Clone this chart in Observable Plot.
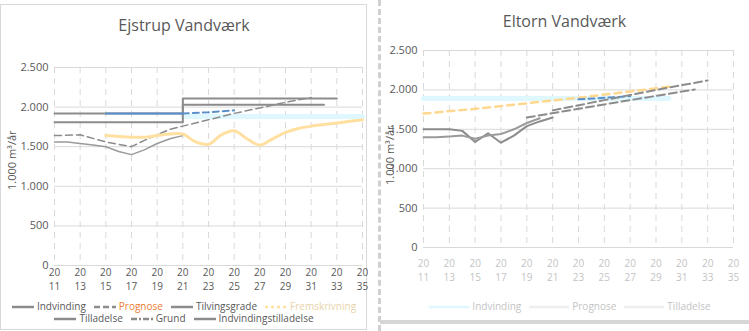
<!DOCTYPE html>
<html><head><meta charset="utf-8">
<script src="https://cdn.jsdelivr.net/npm/d3@7"></script>
<script src="https://cdn.jsdelivr.net/npm/@observablehq/plot@0.6"></script>
<style>
body{margin:0;width:749px;height:331px;background:#fff;font-family:"Open Sans",sans-serif;overflow:hidden;position:relative;color:#595959}
.panel{position:absolute}
.title{position:absolute;font-size:16px;color:#595959;text-align:center}
.ylab{position:absolute;font-size:11px;color:#595959;transform:rotate(-90deg);transform-origin:left top;white-space:nowrap}
.legend{position:absolute;font-size:10px;line-height:11px;color:#595959}
.legend .row{display:flex;justify-content:center;gap:8px;margin-bottom:1px}
.legend span{display:inline-flex;align-items:center;gap:3px;white-space:nowrap}
</style></head><body>
<div style="position:absolute;left:0;top:4px;width:367px;height:326px;border:1px solid #d9d9d9;box-sizing:border-box"></div>
<div style="position:absolute;left:378px;top:0;width:0;height:331px;border-left:3px dashed #d0d0d0"></div>
<div style="position:absolute;left:380px;top:320px;width:369px;height:4px;background:#d6d6d6"></div>
<div class="title" style="left:0;top:14px;width:368px">Ejstrup Vandværk</div>
<div class="title" style="left:380px;top:10px;width:369px">Eltorn Vandværk</div>
<div class="ylab" style="left:4px;top:190px">1.000 m³/år</div>
<div class="ylab" style="left:382px;top:185px">1.000 m³/år</div>
<div id="left" class="panel" style="left:0;top:40px"></div>
<div id="right" class="panel" style="left:380px;top:40px"></div>
<div id="legL" class="legend" style="left:6px;top:301px;width:356px"></div>
<div id="legR" class="legend" style="left:410px;top:301px;width:320px;color:#c4c4c4"></div>
<script>
// ---- shared ticks ----
const xTicks = [2011,2013,2015,2017,2019,2021,2023,2025,2027,2029,2031,2033,2035];
const yTicks = [0,500,1000,1500,2000,2500];

// ---- left chart (Ejstrup) ----
const lHistYears = [2011,2012,2013,2014,2015,2016,2017,2018,2019,2020,2021];
const lHistValues = [1560,1560,1540,1520,1500,1440,1400,1460,1540,1600,1640];
const lProgYears = [2015,2016,2017,2018,2019,2020,2021,2022,2023,2024,2025,2026,2027,2028,2029,2030,2031,2032,2033,2034,2035];
const lProgValues = [1640,1630,1620,1620,1640,1660,1660,1560,1530,1650,1700,1600,1520,1600,1680,1730,1760,1780,1800,1820,1840];
const lPermitAYears = [2011,2021,2032];
const lPermitAValues = [1920,2030,2030];
const lPermitBYears = [2011,2021,2033];
const lPermitBValues = [1810,2110,2110];
const lBlueYears = [2015,2021];
const lBlueValues = [1920,1920];
const lBlueDashYears = [2021,2023,2025];
const lBlueDashValues = [1920,1935,1960];
const lGrundYears = [2011,2013,2015,2017,2018,2019,2020,2021,2023,2025,2027,2029,2031];
const lGrundValues = [1640,1650,1560,1500,1580,1650,1720,1760,1840,1920,1990,2060,2120];
const lBandYears = [2021,2035];
const lBandValues = [1880,1880];

// ---- right chart (Eltorn) ----
const rHistAYears = [2011,2012,2013,2014,2015,2016,2017,2018,2019,2020,2021];
const rHistAValues = [1500,1500,1500,1480,1340,1450,1330,1420,1540,1600,1650];
const rHistBYears = [2011,2012,2013,2014,2015,2016,2017,2018,2019,2020];
const rHistBValues = [1400,1400,1410,1420,1380,1420,1440,1500,1580,1640];
const rProjAYears = [2021,2025,2029,2033];
const rProjAValues = [1740,1870,2000,2120];
const rProjBYears = [2019,2023,2027,2032];
const rProjBValues = [1650,1760,1870,2005];
const rProgYears = [2011,2015,2019,2023,2027,2030];
const rProgValues = [1700,1760,1830,1900,1980,2040];
const rBlueYears = [2023,2025,2027];
const rBlueValues = [1880,1900,1920];
const rBandYears = [2011,2030];
const rBandValues = [1890,1890];

// ---- legends ----
const legLRow1 = ["Indvinding","Prognose","Tilvingsgrade","Fremskrivning"];
const legLRow2 = ["Tilladelse","Grund","Indvindingstilladelse"];
const legRNames = ["Indvinding","Prognose","Tilladelse"];

const loc = d3.formatLocale({decimal:",",thousands:".",grouping:[3],currency:["","kr"]});
const fmt = loc.format(",");
const century = d => String(d).slice(0,2);
const yy = d => String(d).slice(2);
const grid = "#d9d9d9";

function base(opts){
  return {
    width: opts.width, height: opts.height,
    marginLeft: opts.ml, marginRight: opts.mr, marginTop: opts.mt, marginBottom: opts.mb,
    style:{fontFamily:"Open Sans, sans-serif", fontSize:"11px", color:"#595959", background:"transparent"},
    x:{domain:[2011,2035], label:null},
    y:{domain:[0,2500], label:null}
  };
}
const T = (xs, ys) => xs.map((x,i)=>({x, y:ys[i]}));

const left = Plot.plot({
  ...base({width:368,height:262,ml:54,mr:6,mt:27,mb:37}),
  marks:[
    Plot.ruleY(yTicks,{stroke:grid,strokeWidth:1}),
    Plot.ruleX(xTicks,{stroke:grid,strokeDasharray:"6,5"}),
    Plot.line(T(lBandYears,lBandValues),{x:"x",y:"y",stroke:"#dff8ff",strokeWidth:5}),
    Plot.line(T(lPermitBYears,lPermitBValues),{x:"x",y:"y",stroke:"#8c8c8c",strokeWidth:2,curve:"step-after"}),
    Plot.line(T(lPermitAYears,lPermitAValues),{x:"x",y:"y",stroke:"#8c8c8c",strokeWidth:2,curve:"step-after"}),
    Plot.line(T(lBlueYears,lBlueValues),{x:"x",y:"y",stroke:"#5b8fc9",strokeWidth:2}),
    Plot.line(T(lBlueDashYears,lBlueDashValues),{x:"x",y:"y",stroke:"#5b8fc9",strokeWidth:2,strokeDasharray:"6,4"}),
    Plot.line(T(lGrundYears,lGrundValues),{x:"x",y:"y",stroke:"#8c8c8c",strokeWidth:1.5,strokeDasharray:"7,4"}),
    Plot.line(T(lHistYears,lHistValues),{x:"x",y:"y",stroke:"#9a9a9a",strokeWidth:1.5}),
    Plot.line(T(lProgYears,lProgValues),{x:"x",y:"y",stroke:"#ffe0a0",strokeWidth:3,curve:"catmull-rom"}),
    Plot.axisX({ticks:xTicks,tickFormat:century,tickSize:0,tickPadding:3,fill:"#595959",fontSize:10}),
    Plot.axisX({ticks:xTicks,tickFormat:yy,tickSize:0,tickPadding:17,fill:"#595959",fontSize:10}),
    Plot.axisY({ticks:yTicks,tickFormat:fmt,tickSize:0,tickPadding:6,fill:"#595959"})
  ]
});
document.getElementById("left").append(left);

const right = Plot.plot({
  ...base({width:369,height:262,ml:43,mr:16,mt:10,mb:55}),
  marks:[
    Plot.ruleY(yTicks,{stroke:grid,strokeWidth:1}),
    Plot.ruleX(xTicks,{stroke:grid,strokeDasharray:"6,5"}),
    Plot.line(T(rBandYears,rBandValues),{x:"x",y:"y",stroke:"#dff8ff",strokeWidth:5}),
    Plot.line(T(rProgYears,rProgValues),{x:"x",y:"y",stroke:"#ffd890",strokeWidth:2.5,strokeDasharray:"7,5"}),
    Plot.line(T(rBlueYears,rBlueValues),{x:"x",y:"y",stroke:"#5b8fc9",strokeWidth:2,strokeDasharray:"6,4"}),
    Plot.line(T(rProjAYears,rProjAValues),{x:"x",y:"y",stroke:"#8c8c8c",strokeWidth:2,strokeDasharray:"8,4"}),
    Plot.line(T(rProjBYears,rProjBValues),{x:"x",y:"y",stroke:"#8c8c8c",strokeWidth:2,strokeDasharray:"8,4"}),
    Plot.line(T(rHistAYears,rHistAValues),{x:"x",y:"y",stroke:"#8c8c8c",strokeWidth:2}),
    Plot.line(T(rHistBYears,rHistBValues),{x:"x",y:"y",stroke:"#9a9a9a",strokeWidth:2}),
    Plot.axisX({ticks:xTicks,tickFormat:century,tickSize:0,tickPadding:12,fill:"#c4c4c4",fontSize:10}),
    Plot.axisX({ticks:xTicks,tickFormat:yy,tickSize:0,tickPadding:26,fill:"#c4c4c4",fontSize:10}),
    Plot.axisY({ticks:yTicks,tickFormat:fmt,tickSize:0,tickPadding:6,fill:"#595959"})
  ]
});
document.getElementById("right").append(right);

function legendRow(el, names, colors, dashes, textColors, w){
  const row = document.createElement("div");
  row.className = "row";
  names.forEach((n,i)=>{
    const s=document.createElement("span");
    s.innerHTML=`<svg width="${w}" height="6"><line x1="0" y1="3" x2="${w}" y2="3" stroke="${colors[i]}" stroke-width="2.5" stroke-dasharray="${dashes[i]}"/></svg>${n}`;
    if(textColors && textColors[i]) s.style.color = textColors[i];
    row.append(s);
  });
  document.getElementById(el).append(row);
}
legendRow("legL",legLRow1,["#8c8c8c","#8c8c8c","#8c8c8c","#ffe0a0"],["","6,3","","3,3"],[null,"#ed7d31",null,"#e8d3a8"],22);
legendRow("legL",legLRow2,["#8c8c8c","#8c8c8c","#8c8c8c"],["","6,2,2,2",""],null,22);
legendRow("legR",legRNames,["#dff8ff","#eeeeee","#eeeeee"],["","",""],null,40);
</script>
</body></html>
